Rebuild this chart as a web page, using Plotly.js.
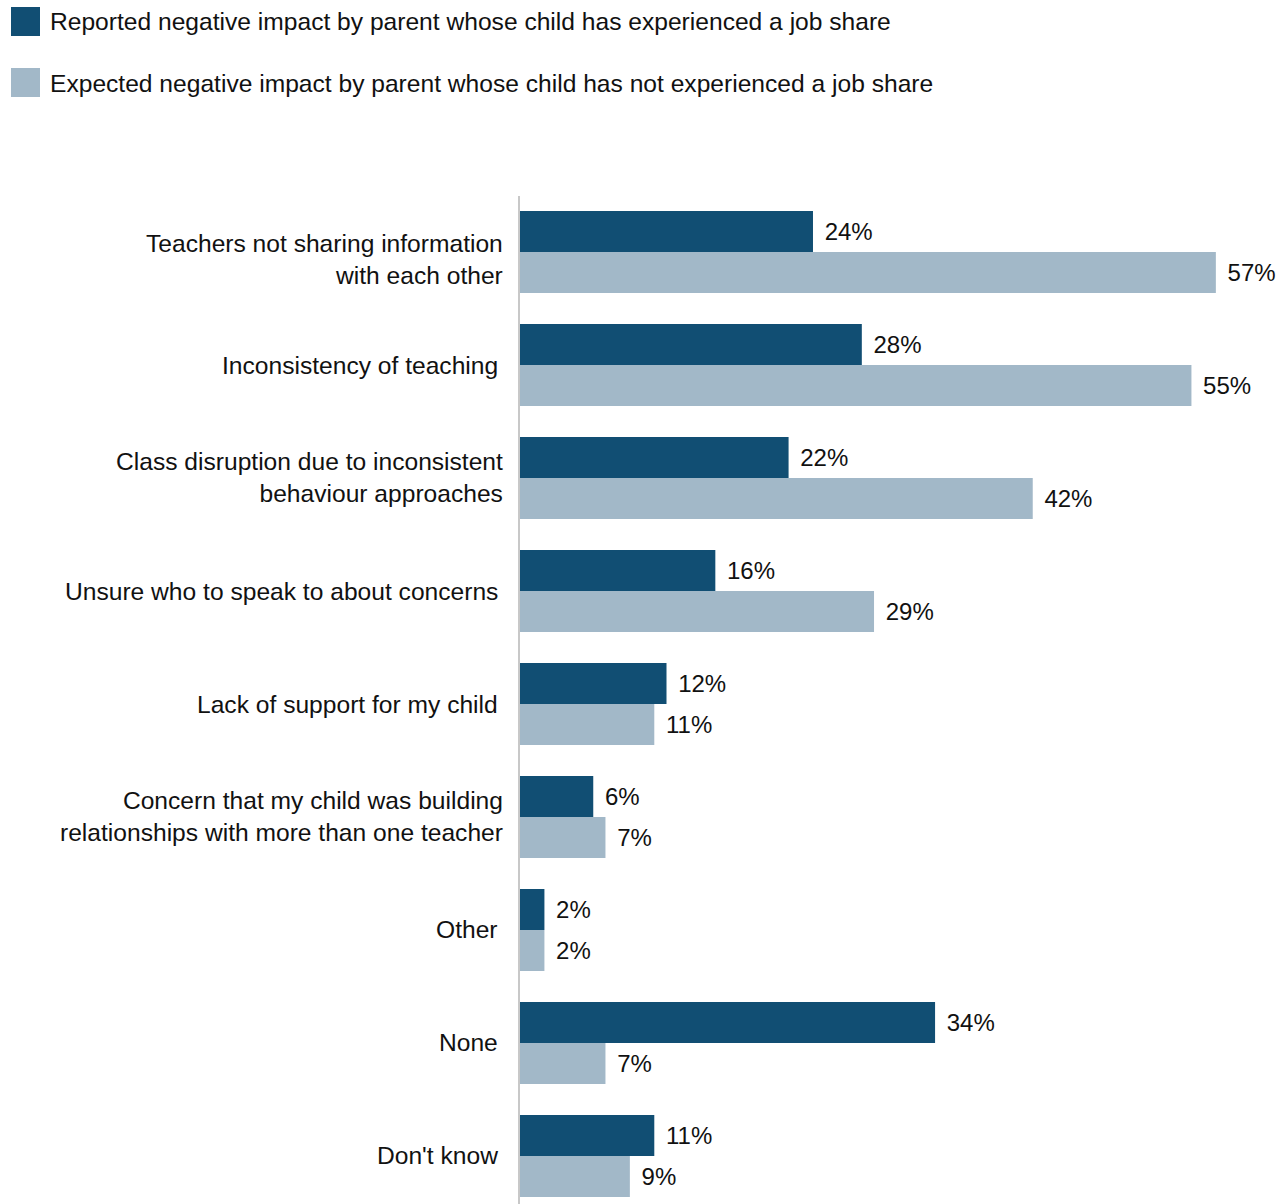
<!DOCTYPE html>
<html>
<head>
<meta charset="utf-8">
<script src="https://cdn.plot.ly/plotly-3.0.1.min.js"></script>
<style>html,body{margin:0;padding:0;background:#fff;}</style>
</head>
<body>
<div id="chart" style="width:1286px;height:1204px;"></div>
<script>
const categories = [
  "Teachers not sharing information<br>with each other",
  "Inconsistency of teaching",
  "Class disruption due to inconsistent<br>behaviour approaches",
  "Unsure who to speak to about concerns",
  "Lack of support for my child",
  "Concern that my child was building<br>relationships with more than one teacher",
  "Other",
  "None",
  "Don't know"
];
const reported = [24, 28, 22, 16, 12, 6, 2, 34, 11];
const expected = [57, 55, 42, 29, 11, 7, 2, 7, 9];
const seriesNames = [
  "Reported negative impact by parent whose child has experienced a job share",
  "Expected negative impact by parent whose child has not experienced a job share"
];
const colors = ["#114E73", "#A2B8C8"];

const W = 1286, H = 1204;
const M = {l: 520, r: 3, t: 196, b: 0};
const pw = W - M.l - M.r, ph = H - M.t - M.b;
const px = x => (x - M.l) / pw;
const py = y => (H - M.b - y) / ph;

const FAM = "Liberation Sans, Arial, sans-serif";
const labelFont = {family: FAM, size: 24.6, color: "#111"};
const valueFont = {family: FAM, size: 24, color: "#111"};

const traces = [reported, expected].map((vals, i) => ({
  type: "bar",
  orientation: "h",
  name: seriesNames[i],
  y: categories,
  x: vals,
  marker: {color: colors[i], line: {width: 0}},
  text: vals.map(v => "\u00a0\u200a" + v + "%"),
  textposition: "outside",
  textfont: valueFont,
  cliponaxis: false,
  constraintext: "none",
  hoverinfo: "skip"
}));

const shapes = [];
const annotations = [];
[[7, 36, 22], [68, 97, 84]].forEach((r, i) => {
  shapes.push({
    type: "rect", xref: "paper", yref: "paper",
    x0: px(11), x1: px(40), y0: py(r[1]), y1: py(r[0]),
    fillcolor: colors[i], line: {width: 0}
  });
  annotations.push({
    xref: "paper", yref: "paper", x: px(48), y: py(r[2]),
    xanchor: "left", yanchor: "middle", showarrow: false,
    text: seriesNames[i], font: labelFont
  });
});

// category labels
categories.forEach((c, i) => {
  const multi = c.indexOf("<br>") >= 0;
  annotations.push({
    xref: "paper", yref: "y", x: px(multi ? 505 : 500), y: c,
    xanchor: "right", yanchor: "middle", align: "right",
    yshift: i === 0 ? -7 : (multi ? 1 : 0),
    showarrow: false, text: c, font: labelFont
  });
});

const layout = {
  width: W, height: H,
  margin: M,
  paper_bgcolor: "#fff", plot_bgcolor: "#fff",
  barmode: "group",
  bargap: 0.274,
  bargroupgap: 0,
  showlegend: false,
  font: labelFont,
  xaxis: {
    range: [0, 62.5], visible: false, showgrid: false, zeroline: false, fixedrange: true
  },
  yaxis: {
    type: "category",
    range: [8.425, -0.496],
    showline: true, linecolor: "#C8C8C8", linewidth: 2,
    showgrid: false, zeroline: false,
    ticks: "", showticklabels: false,
    fixedrange: true
  },
  shapes: shapes,
  annotations: annotations
};

Plotly.newPlot("chart", traces, layout, {displayModeBar: false, staticPlot: true});
</script>
</body>
</html>
